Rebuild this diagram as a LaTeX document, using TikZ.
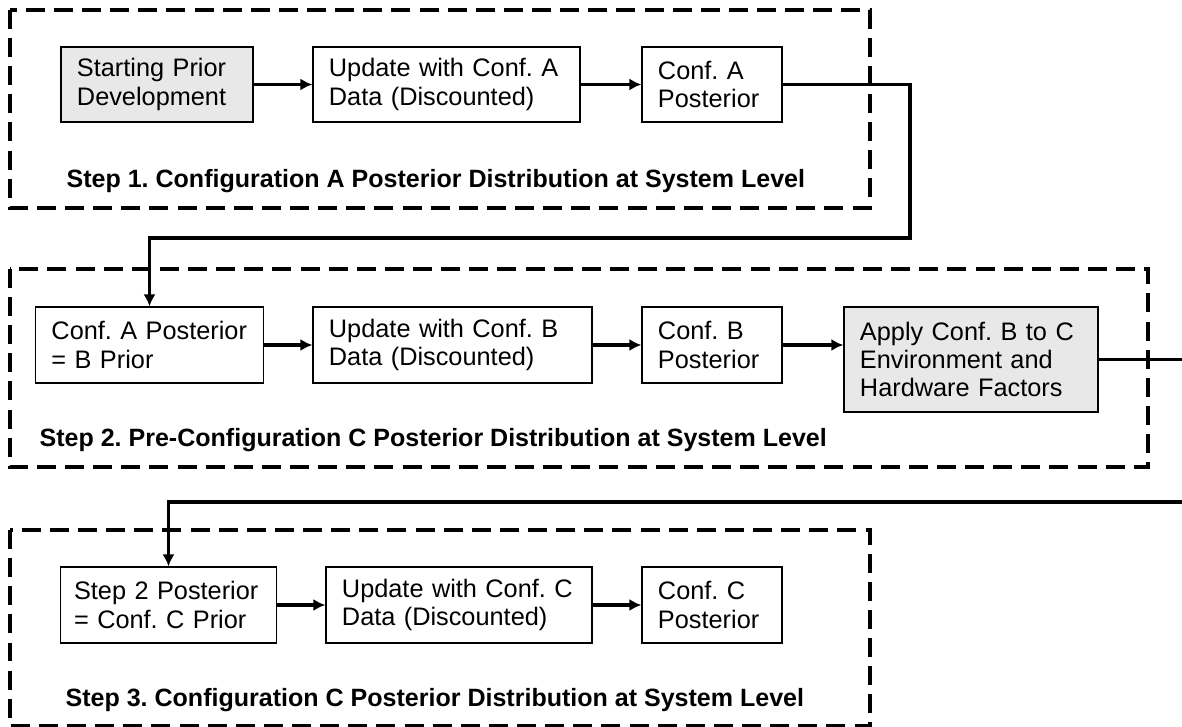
\documentclass[tikz,border=0pt]{standalone}
\usepackage{fontspec}
\setmainfont{Liberation Sans}
\usepackage{tikz}
\definecolor {boxgray}{gray}{0.91}
\usetikzlibrary {positioning,arrows.meta}
\frenchspacing

\begin{document}
\begin{tikzpicture}[x=0.025cm ,y=-0.025cm ,-{Latex[length=8.5pt,width=8.5pt]} ,line width=2.3pt ,
box/.style ={ rectangle ,draw ,line width=0.8pt ,fill=white ,
inner xsep=0.4cm ,align=left ,minimum height=1.9cm ,
font=\fontsize{18}{20}\selectfont},
grey/.style ={ box ,fill=boxgray},
frame/.style ={ draw ,-, line width=2.2pt ,dash pattern=on 13.5pt off 6.5pt},
steplabel/.style ={ anchor=west ,inner sep=0pt ,
font=\fontsize{17.8}{20}\selectfont\bfseries}]
  \useasboundingbox (0,0) rectangle (1182,727);
  % dashed frames
  \draw[frame] (10,10) rectangle (870,208);
  \draw[frame] (10,269) rectangle (1148,467);
  \draw[frame] (10,530) rectangle (870,726);
  % step 1
  \node[grey](prior) at (157,84.5) [text width=4.0cm ,minimum height=1.875cm]{Starting Prior\\Development};
  \node[box](updA) at (446.5,84.5) [text width=5.875cm ,minimum height=1.875cm]{Update with Conf. A\\Data (Discounted)};
  \node[box](postA) at (712,84.5) [text width=2.7cm ,minimum height=1.875cm]{Conf. A\\Posterior};
  \node[steplabel](lab1) at (65,181){Step 1. Configuration A Posterior Distribution at System Level};
  % step 2
  \node[box](priorB) at (149.5,345) [text width=4.9cm]{Conf. A Posterior\\= B Prior};
  \node[box](updB) at (452.5,345) [text width=6.175cm]{Update with Conf. B\\Data (Discounted)};
  \node[box](postB) at (712,345) [text width=2.7cm]{Conf. B\\Posterior};
  \node[grey](apply) at (971,359.5) [text width=5.55cm ,minimum height=2.625cm]{Apply Conf. B to C\\Environment and\\Hardware Factors};
  \node[steplabel](lab2) at (38,440){Step 2. Pre-Configuration C Posterior Distribution at System Level};
  % step 3
  \node[box](priorC) at (168.5,605) [text width=4.72cm ,inner xsep=0.34cm]{Step 2 Posterior\\= Conf. C Prior};
  \node[box](updC) at (459,605) [text width=5.85cm]{Update with Conf. C\\Data (Discounted)};
  \node[box](postC) at (712,605) [text width=2.7cm]{Conf. C\\Posterior};
  \node[steplabel](lab3) at (64,700){Step 3. Configuration C Posterior Distribution at System Level};
  % links
  \coordinate (turnA) at (910,238);
  \coordinate (outB) at (1182,359.5);
  \coordinate (turnB) at (1182,502);
  \path (prior) edge (updA);
  \path (updA) edge (postA);
  \draw (postA.east) -| (turnA) -| (priorB.north);
  \path (priorB) edge (updB);
  \path (updB) edge (postB);
  \path (postB) edge (postB -| apply.west);
  \draw[-] (apply.east) -- (outB);
  \draw (turnB) -| (priorC.north);
  \path (priorC) edge (updC);
  \path (updC) edge (postC);
\end{tikzpicture}
\end{document}
